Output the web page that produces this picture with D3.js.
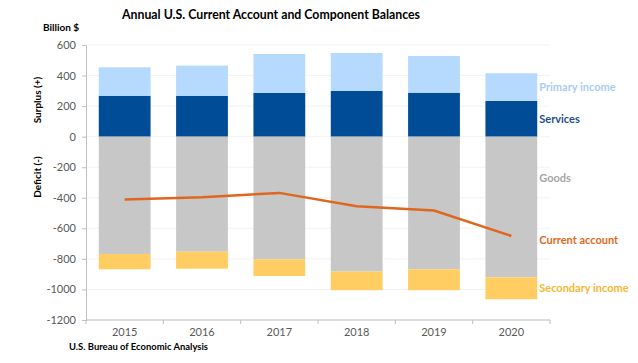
<!DOCTYPE html>
<html>
<head>
<meta charset="utf-8">
<script src="https://cdn.jsdelivr.net/npm/d3@7"></script>
<style>
  body { margin: 0; background: #fff; }
  text { font-family: Lato, "Liberation Sans", sans-serif; }
</style>
</head>
<body>
<div class="chart"></div>
<script>
// data (billion $)
const years = ["2015", "2016", "2017", "2018", "2019", "2020"];
const services = [268, 268, 286, 299, 288, 234];
const primaryIncome = [186, 197, 255, 249, 240, 181];
const goods = [-768, -753, -803, -883, -868, -920];
const secondaryIncome = [-100, -111, -109, -122, -137, -144];
const currentAccount = [-412, -397, -368, -455, -484, -650];
const yTicks = [600, 400, 200, 0, -200, -400, -600, -800, -1000, -1200];

const W = 638, H = 363;
const margin = ({ top: 45, right: 88, bottom: 43, left: 86 });
const width = W - margin.left - margin.right,
    height = H - margin.top - margin.bottom;

let svg = d3.select(".chart").append("svg")
    .attr("width", W)
    .attr("height", H);

let g = svg.append("g")
    .attr("transform", "translate(" + margin.left + "," + margin.top + ")");

let xScale = d3.scaleBand()
    .domain(years)
    .range([0, width])
    .paddingInner(0.33)
    .paddingOuter(0.165);

let yScale = d3.scaleLinear()
    .domain([-1200, 600])
    .range([height, 0]);

// faint gridlines
g.selectAll(".grid")
    .data(yTicks)
    .join("line")
    .attr("class", "grid")
    .attr("x1", 0).attr("x2", width)
    .attr("y1", d => yScale(d)).attr("y2", d => yScale(d))
    .attr("stroke", "#f3f3f3");

// stacked bars
const colors = { primary: "#b6dafd", services: "#004c97", goods: "#c6c7c6", secondary: "#ffcd62" };
const segs = [];
years.forEach((y, i) => {
    segs.push({ year: y, k: "services", y0: 0, y1: services[i] });
    segs.push({ year: y, k: "primary", y0: services[i], y1: services[i] + primaryIncome[i] });
    segs.push({ year: y, k: "goods", y0: 0, y1: goods[i] });
    segs.push({ year: y, k: "secondary", y0: goods[i], y1: goods[i] + secondaryIncome[i] });
});

g.selectAll(".seg")
    .data(segs)
    .join("rect")
    .attr("class", "seg")
    .attr("x", d => xScale(d.year))
    .attr("width", xScale.bandwidth())
    .attr("y", d => yScale(Math.max(d.y0, d.y1)))
    .attr("height", d => Math.abs(yScale(d.y0) - yScale(d.y1)))
    .attr("fill", d => colors[d.k]);

// current account line
let line = d3.line()
    .x((d, i) => xScale(years[i]) + xScale.bandwidth() / 2)
    .y(d => yScale(d));

g.append("path")
    .datum(currentAccount)
    .attr("fill", "none")
    .attr("stroke", "#e0661d")
    .attr("stroke-width", 2.5)
    .attr("d", line);

// axes
let yAxis = d3.axisLeft(yScale).tickValues(yTicks).tickSize(4).tickPadding(6)
    .tickFormat(d => String(d));
let ya = g.append("g").attr("class", "axis y-axis").call(yAxis);
ya.select(".domain").attr("stroke", "#bfbfbf");
ya.selectAll(".tick line").attr("stroke", "#bfbfbf");
ya.selectAll(".tick text").attr("fill", "#595959").style("font-size", "11px");

let xa = g.append("g").attr("class", "axis x-axis")
    .attr("transform", `translate(0, ${height})`);
xa.append("line").attr("x1", 0).attr("x2", width).attr("stroke", "#bfbfbf");
const bounds = years.map((d, i) => i * width / years.length).concat([width]);
xa.selectAll(".xt")
    .data(bounds)
    .join("line")
    .attr("x1", d => d).attr("x2", d => d)
    .attr("y1", 0).attr("y2", 4)
    .attr("stroke", "#bfbfbf");
xa.selectAll(".xl")
    .data(years)
    .join("text")
    .attr("x", d => xScale(d) + xScale.bandwidth() / 2)
    .attr("y", 16)
    .attr("text-anchor", "middle")
    .attr("fill", "#595959")
    .style("font-size", "11px")
    .text(d => d);

// series labels at the right
const last = years.length - 1;
const lx = xScale(years[last]) + xScale.bandwidth() + 2;
const labels = [
    { t: "Primary income", v: services[last] + primaryIncome[last] / 2, c: "#a9cdf2" },
    { t: "Services", v: services[last] / 2, c: "#1f4e8c" },
    { t: "Goods", v: -270, c: "#a6a6a6" },
    { t: "Current account", v: currentAccount[last] - 25, c: "#e2691c" },
    { t: "Secondary income", v: goods[last] + secondaryIncome[last] / 2, c: "#f7b733" }
];
g.selectAll(".lab")
    .data(labels)
    .join("text")
    .attr("x", lx)
    .attr("y", d => yScale(d.v))
    .attr("dy", "0.35em")
    .attr("fill", d => d.c)
    .style("font-size", "11px")
    .style("font-weight", "bold")
    .text(d => d.t);

// titles
svg.append("text")
    .attr("x", 271).attr("y", 19)
    .attr("text-anchor", "middle")
    .attr("textLength", 298)
    .attr("lengthAdjust", "spacingAndGlyphs")
    .style("font-size", "14px").style("font-weight", "bold")
    .attr("fill", "#000")
    .text("Annual U.S. Current Account and Component Balances");

svg.append("text")
    .attr("x", 43).attr("y", 31)
    .style("font-size", "10px").style("font-weight", "bold")
    .text("Billion $");

svg.append("text")
    .attr("transform", "translate(41,100) rotate(-90)")
    .attr("text-anchor", "middle")
    .style("font-size", "10px").style("font-weight", "bold")
    .text("Surplus (+)");

svg.append("text")
    .attr("transform", "translate(41,177) rotate(-90)")
    .attr("text-anchor", "middle")
    .style("font-size", "10px").style("font-weight", "bold")
    .text("Deficit (-)");

svg.append("text")
    .attr("x", 69).attr("y", 350)
    .attr("textLength", 139)
    .attr("lengthAdjust", "spacingAndGlyphs")
    .style("font-size", "10px").style("font-weight", "bold")
    .text("U.S. Bureau of Economic Analysis");
</script>
</body>
</html>
